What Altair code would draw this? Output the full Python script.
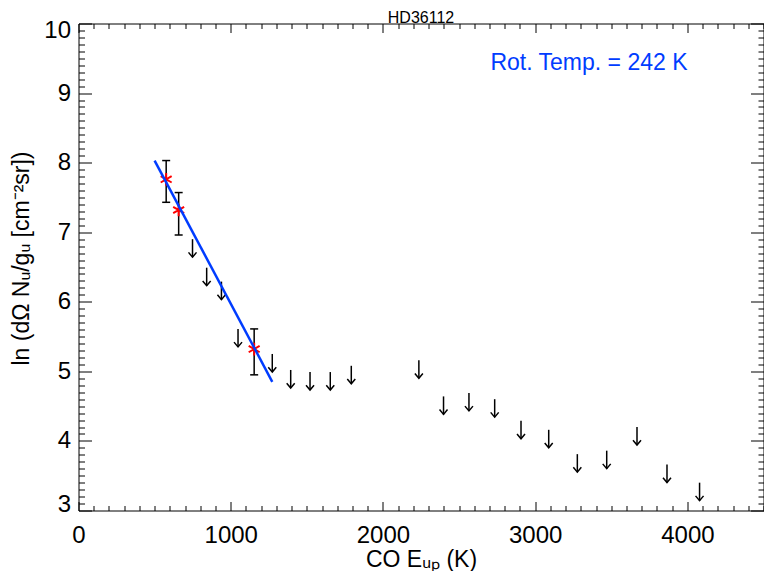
import altair as alt
import pandas as pd

# ---------------- text ----------------
TITLE = "HD36112"
X_TITLE = "CO Eᵤₚ (K)"
Y_TITLE = "ln (dΩ Nᵤ/gᵤ [cm⁻²sr])"
ROT_LABEL = "Rot. Temp. = 242 K"

# ---------------- data ----------------
# detected lines (red asterisks with error bars)
DET_E = [576, 658, 1154]
DET_LN = [7.76, 7.32, 5.32]
DET_LO = [7.43, 6.96, 4.95]
DET_HI = [8.03, 7.57, 5.61]

# upper limits (down arrows)
LIM_E = [749, 842, 939, 1048, 1273, 1394, 1521, 1654, 1792, 2236,
         2398, 2565, 2734, 2907, 3089, 3277, 3470, 3669, 3866, 4080]
LIM_LN = [6.90, 6.49, 6.29, 5.61, 5.25, 5.02, 4.99, 4.99, 5.08, 5.16,
          4.64, 4.69, 4.60, 4.29, 4.16, 3.81, 3.86, 4.20, 3.66, 3.40]

# rotational-diagram fit
FIT_E = [500, 1273]
FIT_LN = [8.03, 4.85]

# ticks
X_MAJOR = [0, 1000, 2000, 3000, 4000]
X_MINOR = [v for v in range(0, 4501, 100) if v % 1000 != 0]
Y_MAJOR = [3, 4, 5, 6, 7, 8, 9, 10]
Y_MINOR = [round(3 + i / 10, 1) for i in range(1, 70) if i % 10 != 0]

# ---------------- style ----------------
FONT = "Liberation Sans"
INK = "#000000"
BLUE = "#003cff"
RED = "#ff0000"
PAD_L, PAD_T, PAD_R, PAD_B = 70.5, 15.5, 0.5, 60.5
TOTAL_W, TOTAL_H = 756, 563
W = TOTAL_W - PAD_L - PAD_R
H = TOTAL_H - PAD_T - PAD_B

STAR = "M0,-1L0,1M-0.866,-0.5L0.866,0.5M-0.866,0.5L0.866,-0.5"
CAP = "M-1,0L1,0"
HEAD = "M-1,-1.2L0,0L1,-1.2"

df_det = pd.DataFrame({"E": DET_E, "lnN": DET_LN, "lo": DET_LO, "hi": DET_HI})
df_caps = pd.DataFrame({"E": DET_E + DET_E, "v": DET_LO + DET_HI})
df_lim = pd.DataFrame({"E": LIM_E, "lnN": LIM_LN})
df_fit = pd.DataFrame({"E": FIT_E, "lnN": FIT_LN})
df_rot = pd.DataFrame({"t": [ROT_LABEL]})
df_title = pd.DataFrame({"t": [TITLE]})

xs = alt.Scale(domain=[0, 4500], nice=False, zero=False)
ys = alt.Scale(domain=[3, 10], nice=False, zero=False)


def tick_axis(orient, values, size, offset, domain=False):
    return alt.Axis(orient=orient, offset=offset, values=values, tickSize=size,
                    ticks=True, labels=False, domain=domain, domainColor=INK,
                    domainWidth=1, tickColor=INK, tickWidth=1, grid=False,
                    title=None)


err = alt.Chart(df_det).mark_rule(color=INK, strokeWidth=1.5).encode(
    x=alt.X("E:Q", scale=xs, axis=tick_axis("top", X_MAJOR, 9, -H)),
    y=alt.Y("lo:Q", scale=ys, axis=tick_axis("right", Y_MAJOR, 13, -W)),
    y2=alt.Y2("hi:Q"),
)

caps = alt.Chart(df_caps).mark_point(
    shape=CAP, size=64, filled=False, strokeWidth=1.5, color=INK, opacity=1
).encode(
    x=alt.X("E:Q", scale=xs, axis=tick_axis("top", X_MINOR, 5, -H)),
    y=alt.Y("v:Q", scale=ys, axis=tick_axis("right", Y_MINOR, 6, -W)),
)

stars = alt.Chart(df_det).mark_point(
    shape=STAR, size=160, filled=False, strokeWidth=2, color=RED, opacity=1
).encode(
    x=alt.X("E:Q", scale=xs, axis=tick_axis("bottom", X_MAJOR, 9, -H, domain=True)),
    y=alt.Y("lnN:Q", scale=ys, axis=tick_axis("left", Y_MAJOR, 13, -W, domain=True)),
)

shafts = alt.Chart(df_lim).mark_rule(color=INK, strokeWidth=1.5, y2Offset=18).encode(
    x=alt.X("E:Q", scale=xs, axis=tick_axis("bottom", X_MINOR, 5, -H)),
    y=alt.Y("lnN:Q", scale=ys, axis=tick_axis("left", Y_MINOR, 5.5, -W)),
    y2=alt.Y2("lnN:Q"),
)

heads = alt.Chart(df_lim).mark_point(
    shape=HEAD, size=64, filled=False, strokeWidth=1.5, color=INK, opacity=1,
    yOffset=18
).encode(
    x=alt.X("E:Q", scale=xs, axis=None),
    y=alt.Y("lnN:Q", scale=ys, axis=None),
)

fit = alt.Chart(df_fit).mark_line(color=BLUE, strokeWidth=2.5).encode(
    x=alt.X("E:Q", scale=xs, axis=alt.Axis(
        orient="bottom", values=X_MAJOR, format="d", ticks=False, tickSize=0,
        labelPadding=13, labelFontSize=24, labelFlush=False, domain=True,
        domainColor=INK, domainWidth=1, grid=False,
        title=X_TITLE, titleFontSize=23, titleFontWeight="normal",
        titleX=W / 2, titleY=55.5, titleBaseline="alphabetic", titleAlign="center")),
    y=alt.Y("lnN:Q", scale=ys, axis=alt.Axis(
        orient="left", values=Y_MAJOR, format="d", ticks=False, tickSize=0,
        labelPadding=8, labelFontSize=24, labelFlush=True, labelFlushOffset=5.5,
        domain=True, domainColor=INK, domainWidth=1, grid=False,
        title=Y_TITLE, titleFontSize=23, titleFontWeight="normal",
        titleX=-50.5, titleY=234.5, titleAngle=270, titleBaseline="alphabetic",
        titleAlign="center")),
)

rot = alt.Chart(df_rot).mark_text(
    align="right", baseline="alphabetic", fontSize=23, font=FONT, color=BLUE
).encode(x=alt.value(609), y=alt.value(46.5), text="t:N")

title = alt.Chart(df_title).mark_text(
    align="center", baseline="alphabetic", fontSize=16, font=FONT, color=INK
).encode(x=alt.value(W / 2), y=alt.value(-1), text="t:N")

chart = alt.layer(err, caps, stars, shafts, heads, fit, rot, title).resolve_axis(
    x="independent", y="independent"
).properties(
    width=W, height=H,
    autosize=alt.AutoSizeParams(type="none"),
    padding={"left": PAD_L, "top": PAD_T, "right": PAD_R, "bottom": PAD_B},
).configure_view(stroke=None).configure_axis(
    labelFont=FONT, titleFont=FONT, labelColor=INK, titleColor=INK
)

chart.save("out.html", embed_options={"renderer": "svg", "actions": False})
